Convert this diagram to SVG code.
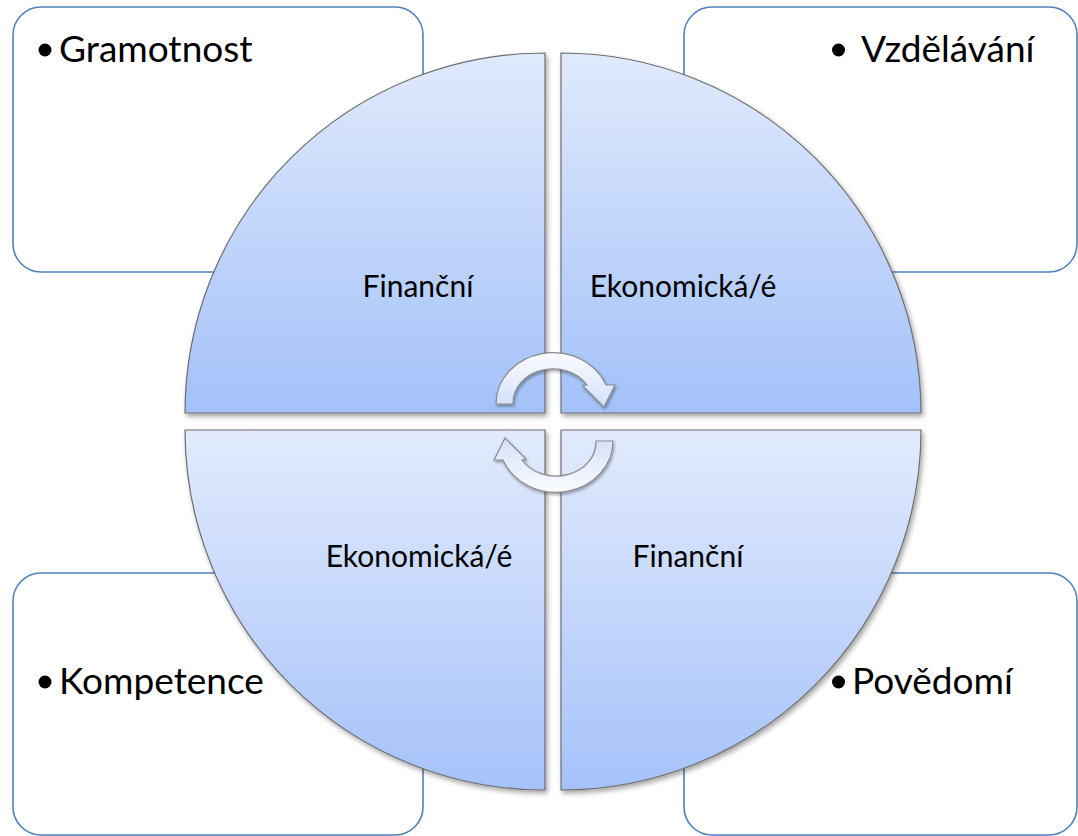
<svg xmlns="http://www.w3.org/2000/svg" width="1078" height="836" viewBox="0 0 1078 836">
<style>
.box{fill:#ffffff;stroke:#4f81bd;stroke-width:1.6}
.quad{stroke:#6e6e6e;stroke-width:1.2}
.qlabel{font-family:Lato,"Liberation Sans",sans-serif;font-size:30px;fill:#000;text-anchor:middle}
.blabel{font-family:Lato,"Liberation Sans",sans-serif;font-size:37px;fill:#000}
.bullet{fill:#000}
.arrow{fill:url(#arrowGrad);stroke:#8a8a8a;stroke-width:1.2}
</style>
<defs>
<linearGradient id="gTop" x1="0" y1="0" x2="0" y2="1">
<stop offset="0" stop-color="#e0eafc"/>
<stop offset="1" stop-color="#a3c1f9"/>
</linearGradient>
<linearGradient id="gBot" x1="0" y1="0" x2="0" y2="1">
<stop offset="0" stop-color="#e2ebfd"/>
<stop offset="1" stop-color="#a5c2f9"/>
</linearGradient>
<linearGradient id="arrowGrad" x1="0" y1="0" x2="0" y2="1">
<stop offset="0" stop-color="#fbfcff"/>
<stop offset="1" stop-color="#d3e0fa"/>
</linearGradient>
<filter id="shadow" x="-10%" y="-10%" width="120%" height="120%">
<feDropShadow dx="2" dy="3" stdDeviation="2.5" flood-color="#000" flood-opacity="0.35"/>
</filter>
<filter id="ashadow" x="-20%" y="-20%" width="140%" height="140%">
<feDropShadow dx="1" dy="2" stdDeviation="1.5" flood-color="#000" flood-opacity="0.35"/>
</filter>
<path id="carrow" d="M 496 404 A 57 51 0 0 1 606 385 L 615 385 L 604 407 L 583 386 L 587 385 A 40 34 0 0 0 513 404 Z"/>
</defs>

<g id="box-gramotnost">
<rect class="box" x="13" y="7" width="410" height="265" rx="28" ry="28"/>
<circle class="bullet" cx="45" cy="50" r="6.5"/>
<text class="blabel" x="59" y="62">Gramotnost</text>
</g>
<g id="box-vzdelavani">
<rect class="box" x="684" y="7" width="393" height="265" rx="28" ry="28"/>
<circle class="bullet" cx="838.5" cy="50" r="6.5"/>
<text class="blabel" x="861" y="62">Vzdělávání</text>
</g>
<g id="box-kompetence">
<rect class="box" x="13" y="573" width="410" height="262" rx="28" ry="28"/>
<circle class="bullet" cx="45" cy="682" r="6.5"/>
<text class="blabel" x="59" y="694">Kompetence</text>
</g>
<g id="box-povedomi">
<rect class="box" x="684" y="573" width="393" height="262" rx="28" ry="28"/>
<circle class="bullet" cx="838.5" cy="682" r="6.5"/>
<text class="blabel" x="852" y="694">Povědomí</text>
</g>

<g id="quad-tl">
<path class="quad" fill="url(#gTop)" filter="url(#shadow)" d="M 545 413 L 185 413 A 360 360 0 0 1 545 53 Z"/>
<text class="qlabel" x="418" y="297">Finanční</text>
</g>
<g id="quad-tr">
<path class="quad" fill="url(#gTop)" filter="url(#shadow)" d="M 561 413 L 561 53 A 360 360 0 0 1 921 413 Z"/>
<text class="qlabel" x="683" y="297">Ekonomická/é</text>
</g>
<g id="quad-bl">
<path class="quad" fill="url(#gBot)" filter="url(#shadow)" d="M 545 430 L 545 790 A 360 360 0 0 1 185 430 Z"/>
<text class="qlabel" x="419" y="567">Ekonomická/é</text>
</g>
<g id="quad-br">
<path class="quad" fill="url(#gBot)" filter="url(#shadow)" d="M 561 430 L 921 430 A 360 360 0 0 1 561 790 Z"/>
<text class="qlabel" x="688" y="567">Finanční</text>
</g>

<g id="connectors" filter="url(#ashadow)">
<use href="#carrow" class="arrow"/>
<use href="#carrow" class="arrow" transform="rotate(180 554.5 422.5)"/>
</g>
</svg>
